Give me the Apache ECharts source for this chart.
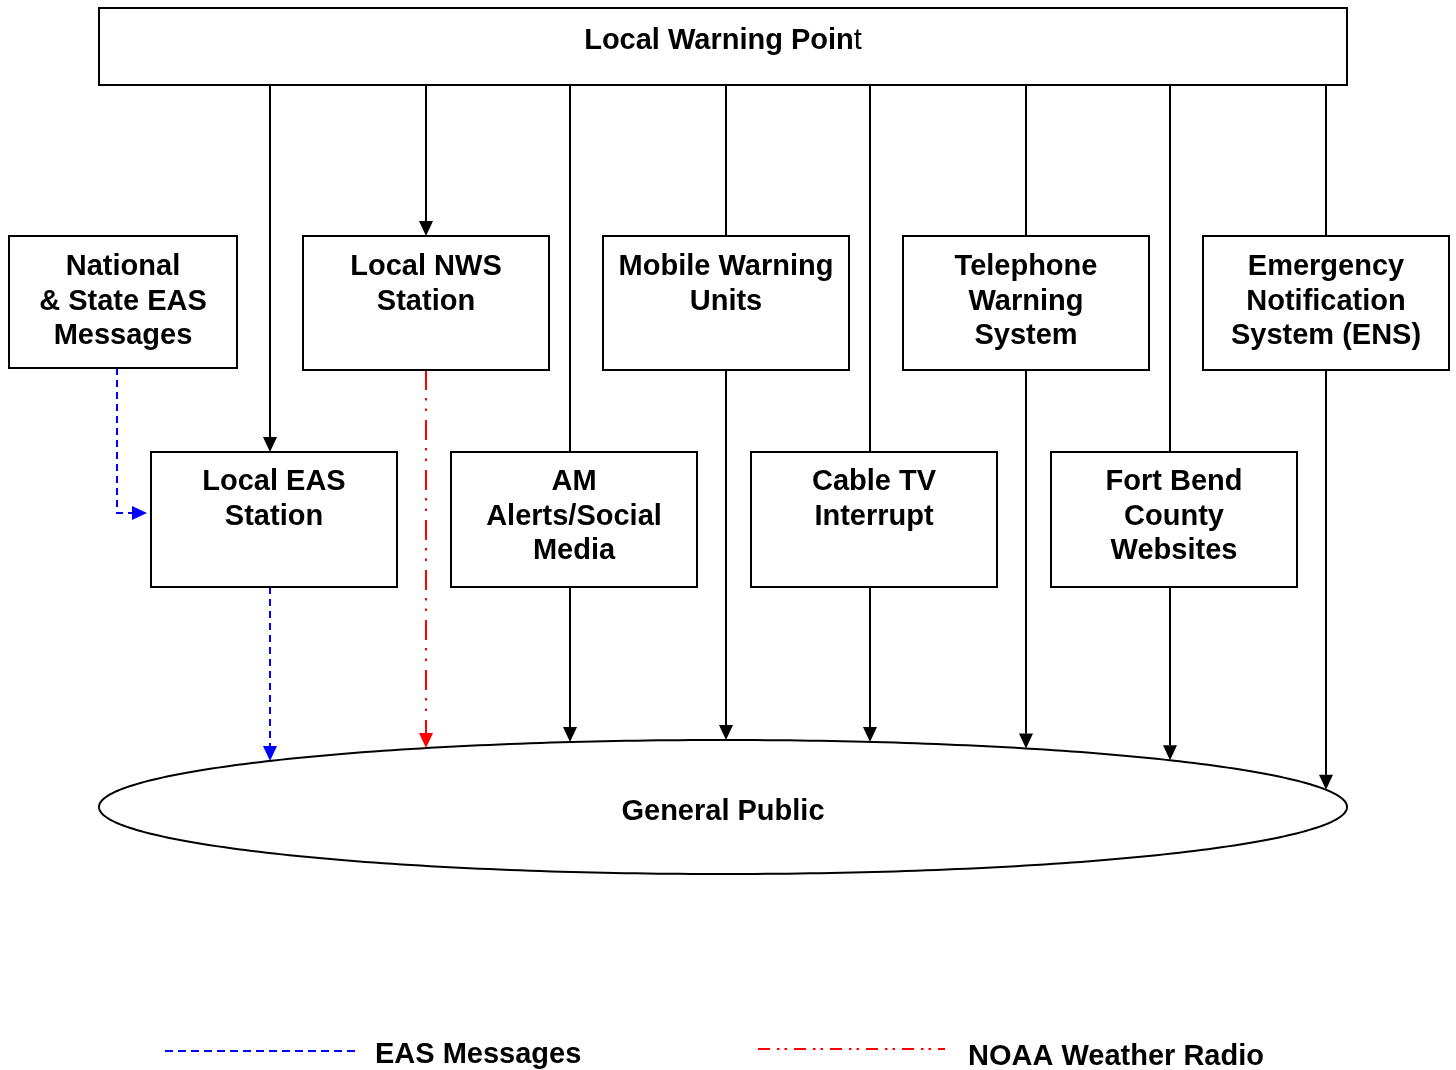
<!DOCTYPE html>
<html><head><meta charset="utf-8">
<script src="https://cdn.jsdelivr.net/npm/echarts@6/dist/echarts.min.js"></script>
<style>html,body{margin:0;padding:0;background:#fff}#c{width:1456px;height:1070px}</style>
</head><body><div id="c"></div>
<script>
// ---- diagram content ----
const topNode = ['Local Warning Poin', 't'];          // last letter is set in regular weight in the source
const sourceRow = ['National\n& State EAS\nMessages', 'Local NWS\nStation', 'Mobile Warning\nUnits', 'Telephone\nWarning\nSystem', 'Emergency\nNotification\nSystem (ENS)'];
const outletRow = ['Local EAS\nStation', 'AM\nAlerts/Social\nMedia', 'Cable TV\nInterrupt', 'Fort Bend\nCounty\nWebsites'];
const audience = 'General Public';
// feed from Local Warning Point: 'none' | 'arrow' | 'plain'
const sourceFeed = ['none', 'arrow', 'plain', 'plain', 'plain'];
const outletFeed = ['arrow', 'plain', 'plain', 'plain'];
// path to General Public: 'none' | 'solid' | 'eas' | 'noaa'
const sourceOut = ['none', 'noaa', 'solid', 'solid', 'solid'];
const outletOut = ['eas', 'solid', 'solid', 'solid'];
const legendItems = ['EAS Messages', 'NOAA Weather Radio'];
const legendKinds = ['eas', 'noaa'];

// ---- layout ----
const FONT = '"Liberation Sans", Arial, Helvetica, sans-serif';
const BOLD = 'bold 29px ' + FONT;
const LH = 34.5;
const STY = {
  solid: {stroke: '#000', lineDash: null, lw: 2},
  eas: {stroke: '#0000ff', lineDash: [7, 5], lw: 2},
  noaa: {stroke: '#ff0000', lineDash: [20, 8, 2.5, 8, 2.5, 9], lw: 2}
};
const LEG_DASH = {eas: [8, 5], noaa: [12, 7, 2.5, 5, 2.5, 7]};
const EL = {cx: 723, cy: 807, rx: 624, ry: 67};
function ellTop(x) { const t = (x - EL.cx) / EL.rx; return EL.cy - EL.ry * Math.sqrt(Math.max(0, 1 - t * t)); }

const topBox = {x0: 99, y0: 8, x1: 1347, y1: 85, ty: 18, rich: true};
const boxes = [];
const connectors = [];
sourceRow.forEach((t, i) => {
  const b = i === 0 ? {x0: 9, x1: 237, y0: 236, y1: 368} : {x0: 303 + 300 * (i - 1), x1: 549 + 300 * (i - 1), y0: 236, y1: 370};
  b.text = t; b.ty = 14; b.lx = (b.x0 + b.x1) / 2; boxes.push(b);
  if (sourceFeed[i] !== 'none') connectors.push({pts: [[b.lx, topBox.y1], [b.lx, b.y0]], kind: 'solid', arrow: sourceFeed[i] === 'arrow'});
  if (sourceOut[i] !== 'none') connectors.push({pts: [[b.lx, b.y1], [b.lx, ellTop(b.lx)]], kind: sourceOut[i], arrow: true});
});
outletRow.forEach((t, j) => {
  const b = {x0: 151 + 300 * j, x1: 397 + 300 * j, y0: 452, y1: 587};
  b.text = t; b.ty = 13; b.lx = (b.x0 + b.x1) / 2 - 4; boxes.push(b);
  if (outletFeed[j] !== 'none') connectors.push({pts: [[b.lx, topBox.y1], [b.lx, b.y0]], kind: 'solid', arrow: outletFeed[j] === 'arrow'});
  if (outletOut[j] !== 'none') connectors.push({pts: [[b.lx, b.y1], [b.lx, ellTop(b.lx)]], kind: outletOut[j], arrow: true});
});
// National & State EAS -> Local EAS Station (elbow)
connectors.push({pts: [[117, boxes[0].y1], [117, 513], [boxes[5].x0 - 4, 513]], kind: 'eas', arrow: true});
boxes.unshift(topBox);

const chart = echarts.init(document.getElementById('c'), null, {renderer: 'canvas'});

function renderBox(params, api) {
  const b = boxes[params.dataIndex];
  const p0 = api.coord([b.x0, b.y0]), p1 = api.coord([b.x1, b.y1]);
  const textEl = b.rich ? {
    type: 'text',
    style: {
      text: '{b|' + topNode[0] + '}{r|' + topNode[1] + '}',
      rich: {b: {font: BOLD, fill: '#000'}, r: {font: '29px ' + FONT, fill: '#000'}},
      x: (p0[0] + p1[0]) / 2, y: p0[1] + b.ty, textAlign: 'center', textVerticalAlign: 'top', fill: '#000', font: BOLD
    }
  } : {
    type: 'text',
    style: {text: b.text, x: (p0[0] + p1[0]) / 2, y: p0[1] + b.ty, textAlign: 'center', textVerticalAlign: 'top', font: BOLD, lineHeight: LH, fill: '#000'}
  };
  return {type: 'group', children: [
    {type: 'rect', shape: {x: p0[0], y: p0[1], width: p1[0] - p0[0], height: p1[1] - p0[1]}, style: {fill: '#fff', stroke: '#000', lineWidth: 2}},
    textEl
  ]};
}

function renderConn(params, api) {
  const c = connectors[params.dataIndex];
  const s = STY[c.kind];
  const pts = c.pts.map(p => api.coord(p));
  const children = [];
  const n = pts.length;
  let linePts = pts.slice();
  if (c.arrow) {
    const a = pts[n - 2], b = pts[n - 1];
    const dx = b[0] - a[0], dy = b[1] - a[1], L = Math.hypot(dx, dy);
    const ux = dx / L, uy = dy / L, AL = 15, AW = 7;
    const base = [b[0] - ux * AL, b[1] - uy * AL];
    linePts[n - 1] = base;
    children.push({type: 'polygon', shape: {points: [b, [base[0] - uy * AW, base[1] + ux * AW], [base[0] + uy * AW, base[1] - ux * AW]]}, style: {fill: s.stroke}, z2: 5});
  }
  children.unshift({type: 'polyline', shape: {points: linePts}, style: {stroke: s.stroke, lineWidth: s.lw, lineDash: s.lineDash, fill: null}});
  return {type: 'group', children};
}

function renderEllipse(params, api) {
  const c = api.coord([EL.cx, EL.cy]);
  const e = api.coord([EL.cx + EL.rx, EL.cy + EL.ry]);
  const rx = e[0] - c[0], ry = e[1] - c[1];
  const pts = [];
  for (let k = 0; k < 360; k++) { const t = k / 360 * Math.PI * 2; pts.push([c[0] + rx * Math.cos(t), c[1] + ry * Math.sin(t)]); }
  return {type: 'group', children: [
    {type: 'polygon', shape: {points: pts}, style: {fill: '#fff', stroke: '#000', lineWidth: 2}},
    {type: 'text', style: {text: audience, x: c[0], y: c[1] + 5, textAlign: 'center', textVerticalAlign: 'middle', font: BOLD, fill: '#000'}}
  ]};
}

const legendPos = [{x0: 165, x1: 355, y: 1051, tx: 375, ty: 1055}, {x0: 758, x1: 945, y: 1049, tx: 968, ty: 1057}];
function renderLegend(params, api) {
  const i = params.dataIndex, L = legendPos[i], s = STY[legendKinds[i]];
  const a = api.coord([L.x0, L.y]), b = api.coord([L.x1, L.y]), t = api.coord([L.tx, L.ty]);
  return {type: 'group', children: [
    {type: 'line', shape: {x1: a[0], y1: a[1], x2: b[0], y2: b[1]}, style: {stroke: s.stroke, lineWidth: 2, lineDash: LEG_DASH[legendKinds[i]]}},
    {type: 'text', style: {text: legendItems[i], x: t[0], y: t[1], textAlign: 'left', textVerticalAlign: 'middle', font: BOLD, fill: '#000'}}
  ]};
}

chart.setOption({
  animation: false,
  grid: {left: 0, right: 0, top: 0, bottom: 0},
  xAxis: {type: 'value', min: 0, max: 1456, show: false},
  yAxis: {type: 'value', min: 0, max: 1070, inverse: true, show: false},
  series: [
    {type: 'custom', clip: false, z: 1, renderItem: renderEllipse, data: [[EL.cx, EL.cy]]},
    {type: 'custom', clip: false, z: 2, renderItem: renderConn, data: connectors.map(c => c.pts[0])},
    {type: 'custom', clip: false, z: 3, renderItem: renderBox, data: boxes.map(b => [b.x0, b.y0])},
    {type: 'custom', clip: false, z: 4, renderItem: renderLegend, data: legendPos.map(l => [l.x0, l.y])}
  ]
});
</script></body></html>
